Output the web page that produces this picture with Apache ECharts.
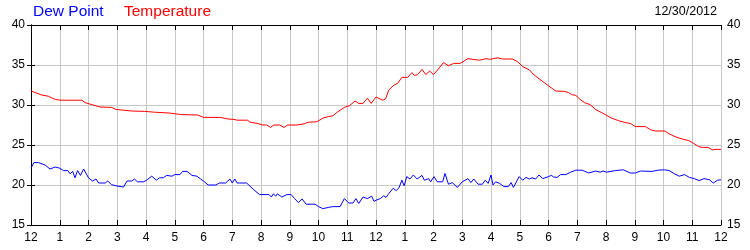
<!DOCTYPE html>
<html><head><meta charset="utf-8">
<script src="https://cdn.jsdelivr.net/npm/echarts@6/dist/echarts.min.js"></script>
<style>html,body{margin:0;padding:0;background:#fff}#c{width:750px;height:250px}</style>
</head><body><div id="c"></div>
<script>
const hourLabels = ['12','1','2','3','4','5','6','7','8','9','10','11','12','1','2','3','4','5','6','7','8','9','10','11','12'];
const yTicks = [15, 20, 25, 30, 35, 40];
const dateLabel = '12/30/2012';

const tempHours = [0,0.37,0.6,0.84,1.0,1.77,1.88,2.06,2.4,2.8,2.95,3.5,3.95,4.3,4.8,5.25,5.8,6.0,6.6,6.85,7.06,7.17,7.53,7.62,7.87,8.05,8.2,8.33,8.45,8.65,8.8,8.93,9.25,9.5,9.65,9.94,10.18,10.35,10.5,10.65,10.9,11.07,11.27,11.4,11.55,11.7,11.83,12.0,12.05,12.23,12.33,12.45,12.63,12.75,12.9,13.1,13.25,13.33,13.45,13.6,13.73,13.87,14.0,14.17,14.35,14.52,14.7,14.93,15.2,15.37,15.6,15.83,15.95,16.23,16.4,16.75,16.93,17.1,17.33,17.5,17.7,17.85,18.0,18.25,18.55,18.7,18.8,18.95,19.1,19.25,19.45,19.65,19.85,20.0,20.2,20.43,20.67,20.85,21.02,21.37,21.55,21.72,22.05,22.2,22.4,22.65,22.88,23.05,23.22,23.35,23.55,23.7,23.83,24.0];
const tempValues = [31.75,31.25,31.1,30.7,30.6,30.6,30.3,30.1,29.75,29.7,29.45,29.25,29.2,29.1,29.0,28.8,28.75,28.45,28.45,28.25,28.2,28.1,28.1,27.85,27.7,27.5,27.5,27.2,27.5,27.5,27.2,27.5,27.5,27.65,27.85,27.9,28.4,28.55,28.65,29.1,29.7,29.9,30.5,30.2,30.2,30.85,30.2,31.0,31.2,30.6,30.75,31.9,32.5,32.7,33.45,33.45,34.05,33.7,33.8,34.45,33.8,34.25,33.8,34.5,35.3,34.9,35.2,35.2,35.8,35.7,35.6,35.8,35.7,35.9,35.75,35.75,35.4,34.8,34.4,33.75,33.2,32.8,32.4,31.75,31.7,31.55,31.3,31.2,30.7,30.3,30.05,29.4,29.05,28.75,28.35,28.05,27.8,27.7,27.3,27.3,26.9,26.75,26.75,26.4,26.05,25.75,25.55,25.2,24.8,24.7,24.7,24.4,24.45,24.45];

const dewHours = [0,0.1,0.26,0.49,0.66,0.84,1.0,1.13,1.28,1.36,1.45,1.53,1.62,1.72,1.83,2.0,2.14,2.26,2.35,2.58,2.67,2.8,2.95,3.22,3.34,3.5,3.6,3.7,3.92,4.04,4.2,4.36,4.47,4.6,4.72,4.9,5.0,5.18,5.27,5.43,5.6,5.77,5.9,6.0,6.16,6.43,6.55,6.77,6.92,7.0,7.09,7.17,7.5,7.75,7.95,8.28,8.36,8.43,8.51,8.57,8.72,8.9,9.05,9.17,9.3,9.43,9.57,9.88,10.0,10.15,10.35,10.5,10.75,10.9,11.05,11.2,11.3,11.4,11.55,11.7,11.85,11.93,12.0,12.15,12.27,12.35,12.45,12.6,12.7,12.8,12.9,12.98,13.07,13.18,13.3,13.43,13.6,13.68,13.83,13.9,14.02,14.13,14.32,14.4,14.52,14.65,14.83,15.0,15.2,15.3,15.4,15.55,15.7,15.8,15.9,16.0,16.07,16.16,16.3,16.45,16.6,16.7,16.78,16.98,17.1,17.22,17.33,17.43,17.55,17.67,17.8,18.0,18.1,18.18,18.3,18.42,18.6,18.77,18.95,19.17,19.4,19.64,19.8,19.9,20.02,20.32,20.6,20.85,21.02,21.2,21.6,21.8,22.03,22.2,22.38,22.55,22.73,22.9,23.07,23.24,23.41,23.6,23.73,23.88,24.0];
const dewValues = [22.1,22.8,22.8,22.5,22.0,22.25,22.1,21.8,21.8,21.4,21.7,20.9,21.8,21.2,22.0,20.9,20.5,20.75,20.25,20.25,20.5,20.05,19.9,19.75,20.5,20.5,20.75,20.4,20.4,20.65,21.1,20.6,20.9,20.9,21.2,21.1,21.3,21.3,21.7,21.7,21.2,21.1,20.75,20.5,20.0,20.0,20.25,20.25,20.75,20.25,20.75,20.25,20.25,19.4,18.8,18.8,18.5,18.9,18.6,18.9,18.5,18.8,18.8,18.3,17.8,18.25,17.6,17.6,17.3,17.05,17.2,17.3,17.3,18.3,17.75,17.75,18.3,17.7,18.5,18.3,18.6,17.95,18.1,18.3,18.65,18.45,18.95,19.6,19.3,19.65,20.6,19.9,21.05,20.75,21.25,20.75,21.2,20.6,20.8,20.4,21.05,20.4,20.4,21.45,20.1,20.3,19.7,20.4,20.8,20.3,20.75,20.1,20.1,20.6,20.2,21.25,20.0,20.4,20.2,19.8,19.8,20.3,19.7,21.05,20.6,20.95,20.75,20.9,20.75,21.25,20.8,21.05,21.2,21.0,20.95,21.3,21.3,21.6,21.85,21.85,21.5,21.75,21.6,21.75,21.6,21.8,21.9,21.5,21.5,21.75,21.7,21.85,21.9,21.8,21.4,21.1,21.3,20.95,20.8,20.55,20.8,20.65,20.25,20.6,20.65];

const FONT = '"Liberation Sans", Arial, sans-serif';
const chart = echarts.init(document.getElementById('c'), null, {renderer: 'canvas'});
const yBase = {
  type: 'value', min: yTicks[0], max: yTicks[yTicks.length - 1], interval: 5,
  axisLine: {show: true, lineStyle: {color: '#000', width: 1}},
  axisTick: {show: true, inside: true, length: 4, lineStyle: {color: '#000'}},
  axisLabel: {color: '#000', fontSize: 12, fontFamily: FONT, margin: 6}
};
chart.setOption({
  animation: false,
  backgroundColor: '#fff',
  grid: {left: 31, right: 29, top: 25, bottom: 25, containLabel: false},
  graphic: [
    {type: 'text', left: 33, top: 4, style: {text: 'Dew Point', fill: '#0000ff', font: '15.5px ' + FONT}},
    {type: 'text', left: 124, top: 4, style: {text: 'Temperature', fill: '#ff0000', font: '15.5px ' + FONT}},
    {type: 'text', right: 33, top: 5, style: {text: dateLabel, fill: '#000', font: '12.5px ' + FONT}}
  ],
  xAxis: [
    {type: 'value', min: 0, max: 24, interval: 1, position: 'bottom',
     axisLine: {show: true, onZero: false, lineStyle: {color: '#000', width: 1}},
     axisTick: {show: true, inside: true, length: 5, lineStyle: {color: '#000'}},
     splitLine: {show: true, lineStyle: {color: '#c8c8c8', width: 1}},
     axisLabel: {color: '#000', fontSize: 12, fontFamily: FONT, margin: 7, showMinLabel: true, showMaxLabel: true,
                 formatter: v => hourLabels[Math.round(v)]}},
    {type: 'value', min: 0, max: 24, interval: 1, position: 'top',
     axisLine: {show: true, onZero: false, lineStyle: {color: '#000', width: 1}},
     axisTick: {show: true, inside: true, length: 5, lineStyle: {color: '#000'}},
     splitLine: {show: false}, axisLabel: {show: false}}
  ],
  yAxis: [
    Object.assign({}, yBase, {position: 'left', splitLine: {show: true, lineStyle: {color: '#c8c8c8', width: 1}}}),
    Object.assign({}, yBase, {position: 'right', splitLine: {show: false}})
  ],
  series: [
    {name: 'Dew Point', type: 'line', xAxisIndex: 0, yAxisIndex: 0, showSymbol: false, symbol: 'none',
     lineStyle: {color: '#0000ff', width: 1}, itemStyle: {color: '#0000ff'},
     data: dewHours.map((h, i) => [h, dewValues[i]])},
    {name: 'Temperature', type: 'line', xAxisIndex: 0, yAxisIndex: 0, showSymbol: false, symbol: 'none',
     lineStyle: {color: '#ff0000', width: 1}, itemStyle: {color: '#ff0000'},
     data: tempHours.map((h, i) => [h, tempValues[i]])}
  ]
});
</script>
</body></html>
